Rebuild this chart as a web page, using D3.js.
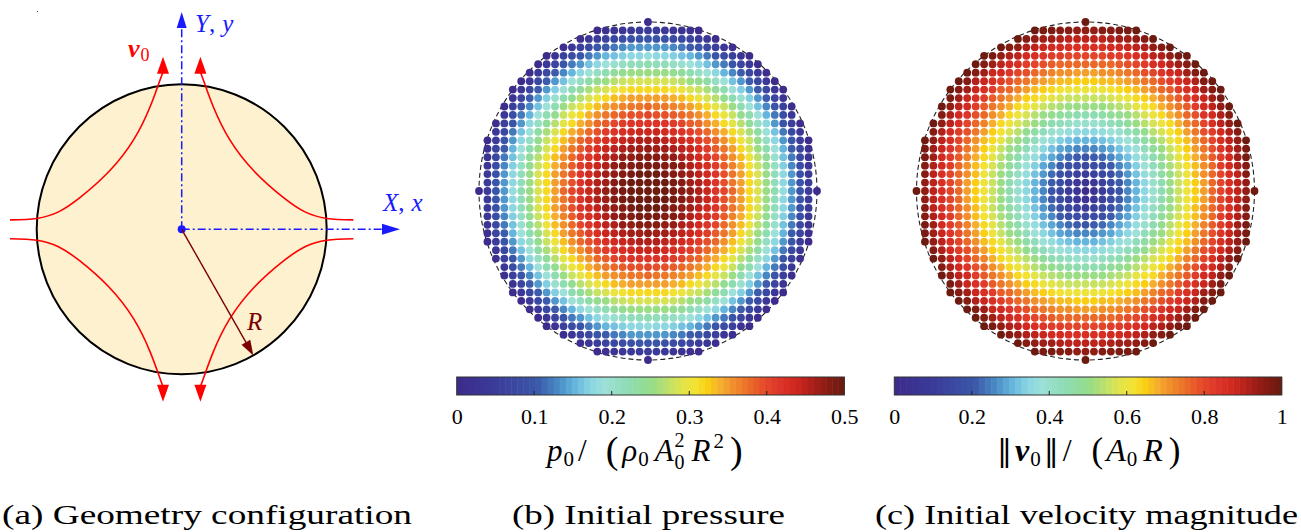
<!DOCTYPE html>
<html><head><meta charset="utf-8">
<script src="https://cdn.jsdelivr.net/npm/d3@7"></script>
<style>body{margin:0;background:#fff;} svg{display:block;}</style>
</head><body>
<svg id="fig" width="1301" height="532" font-family="Liberation Serif"></svg>
<script>
// ---------------- data ----------------
// grid node indices (nodes spaced R/20) and half-width of each row |j| = 0..20
const gridIndex = [-20,-19,-18,-17,-16,-15,-14,-13,-12,-11,-10,-9,-8,-7,-6,-5,-4,-3,-2,-1,0,1,2,3,4,5,6,7,8,9,10,11,12,13,14,15,16,17,18,19,20];
const rowHalfWidth = [20,19,19,19,19,19,19,18,18,17,17,16,16,15,14,13,12,10,8,6,0];
const gridSteps = 20;
// analytic initial fields (normalised): pressure 0.5(1-r^2), velocity magnitude r
const pressureField = (r2) => 0.5 * (1 - r2);
const velocityField = (r2) => Math.sqrt(r2);

const pressureTicks = [0, 0.1, 0.2, 0.3, 0.4, 0.5];
const pressureTickLabels = ["0", "0.1", "0.2", "0.3", "0.4", "0.5"];
const velocityTicks = [0, 0.2, 0.4, 0.6, 0.8, 1];
const velocityTickLabels = ["0", "0.2", "0.4", "0.6", "0.8", "1"];
const captions = ["(a) Geometry configuration", "(b) Initial pressure", "(c) Initial velocity magnitude"];

// schematic streamline (upper-left branch), in units of R; other three are mirrors
const streamlineUL = [[-1.184,0.065],[-1.0,0.075],[-0.85,0.12],[-0.70,0.22],[-0.50,0.40],[-0.33,0.62],[-0.22,0.84],[-0.16,1.0],[-0.129,1.085]];

// colormap stops
const cmapPos = [0,0.1,0.2,0.26,0.3,0.34,0.38,0.44,0.5,0.54,0.58,0.62,0.65,0.68,0.72,0.76,0.8,0.84,0.88,0.92,0.96,1];
const cmapCol = ["#3d2c8c","#3b3d9b","#3a56a8","#4a8dc6","#64b4dc","#88d4e2","#9de0d8","#8edcb4","#94dc8a","#b8e070","#e0e44c","#f4e232","#f9cf12","#f6b02e","#f08b2b","#ea6a28","#e44a2a","#dc3428","#d0281e","#b0201a","#8a1c14","#6d1a10"];
const nLevels = 64;

// ---------------- drawing ----------------
const FONT = "Liberation Serif";
const svg = d3.select("#fig");
const cmapLin = d3.scaleLinear().domain(cmapPos).range(cmapCol).interpolate(d3.interpolateRgb);
const cmap = t => cmapLin(Math.min(nLevels - 1, Math.max(0, Math.floor(t * nLevels))) / (nLevels - 1));

// ---------- panel (a) ----------
const A = { cx: 181.7, cy: 229.3, R: 145 };
const ax = d3.scaleLinear().domain([-1, 1]).range([A.cx - A.R, A.cx + A.R]);
const ay = d3.scaleLinear().domain([-1, 1]).range([A.cy + A.R, A.cy - A.R]);
const ga = svg.append("g");
ga.append("circle").attr("cx", ax(0)).attr("cy", ay(0)).attr("r", ax(1) - ax(0))
  .attr("fill", "#fdf1cf").attr("stroke", "#000").attr("stroke-width", 2);

const line = d3.line().x(d => ax(d[0])).y(d => ay(d[1])).curve(d3.curveNatural);
const mirrors = [[1,1],[-1,1],[1,-1],[-1,-1]];
mirrors.forEach(([mx,my]) => {
  const pts = streamlineUL.map(p => [p[0]*mx, p[1]*my]);
  ga.append("path").attr("d", line(pts)).attr("fill", "none").attr("stroke", "#ff0000").attr("stroke-width", 1.6);
  const end = pts[pts.length-1];
  const bx = ax(end[0]);
  const dir = my > 0 ? -1 : 1;
  const tipY = ay(1.19 * my);
  ga.append("path").attr("d", `M${bx},${tipY} L${bx-6},${tipY - dir*17} L${bx+6},${tipY - dir*17} Z`).attr("fill", "#ff0000");
});

// axes
const blue = "#1a1aff";
ga.append("line").attr("x1", ax(0)).attr("y1", ay(0)).attr("x2", ax(0)).attr("y2", 28)
  .attr("stroke", blue).attr("stroke-width", 1.5).attr("stroke-dasharray", "8,3,2,3");
ga.append("path").attr("d", `M${ax(0)},12 L${ax(0)-5},28 L${ax(0)+5},28 Z`).attr("fill", blue);
ga.append("line").attr("x1", ax(0)).attr("y1", ay(0)).attr("x2", 382).attr("y2", ay(0))
  .attr("stroke", blue).attr("stroke-width", 1.5).attr("stroke-dasharray", "8,3,2,3");
ga.append("path").attr("d", `M400,${ay(0)} L382,${ay(0)-5.5} L382,${ay(0)+5.5} Z`).attr("fill", blue);
ga.append("circle").attr("cx", ax(0)).attr("cy", ay(0)).attr("r", 4).attr("fill", blue);

// radius arrow
const ang = -60.4 * Math.PI / 180;
const rx = ax(Math.cos(ang)), ry = ay(Math.sin(ang));
const ux = Math.cos(ang), uy = -Math.sin(ang);
const dred = "#7b0000";
ga.append("line").attr("x1", ax(0)).attr("y1", ay(0)).attr("x2", rx - ux*12).attr("y2", ry - uy*12)
  .attr("stroke", dred).attr("stroke-width", 1.4);
const px = -uy, py = ux;
ga.append("path").attr("d", `M${rx},${ry} L${rx-ux*15+px*5},${ry-uy*15+py*5} L${rx-ux*15-px*5},${ry-uy*15-py*5} Z`).attr("fill", dred);

// labels
const tY = ga.append("text").attr("x", 195).attr("y", 32).attr("fill", blue).attr("font-family", FONT).attr("font-size", 25);
tY.append("tspan").attr("font-style", "italic").text("Y");
tY.append("tspan").text(",");
tY.append("tspan").attr("font-style", "italic").attr("dx", 7).text("y");
const tX = ga.append("text").attr("x", 383).attr("y", 211).attr("fill", blue).attr("font-family", FONT).attr("font-size", 25);
tX.append("tspan").attr("font-style", "italic").text("X");
tX.append("tspan").text(",");
tX.append("tspan").attr("font-style", "italic").attr("dx", 7).text("x");
const tv = ga.append("text").attr("x", 128).attr("y", 57).attr("fill", "#ff0000").attr("font-family", FONT).attr("font-size", 26);
tv.append("tspan").attr("font-style", "italic").attr("font-weight", "bold").text("v");
tv.append("tspan").attr("font-size", 18).attr("dy", 4).attr("dx", 1).text("0");
ga.append("text").attr("x", 247).attr("y", 330).attr("fill", dred).attr("font-family", FONT).attr("font-size", 25).attr("font-style", "italic").text("R");
ga.append("rect").attr("x", 37).attr("y", 11).attr("width", 1).attr("height", 1).attr("fill", "#555");

// ---------- dot panels ----------
function dotPanel(cx, cy, R, field, vmax) {
  const g = svg.append("g");
  const sx = d3.scaleLinear().domain([-gridSteps, gridSteps]).range([cx - R, cx + R]);
  const sy = d3.scaleLinear().domain([-gridSteps, gridSteps]).range([cy + R, cy - R]);
  const cs = d3.scaleLinear().domain([0, vmax]).range([0, 1]);
  g.append("circle").attr("cx", sx(0)).attr("cy", sy(0)).attr("r", sx(gridSteps) - sx(0))
    .attr("fill", "none").attr("stroke", "#222").attr("stroke-width", 1.1).attr("stroke-dasharray", "5,3");
  const nodes = [];
  gridIndex.forEach(j => {
    const h = rowHalfWidth[Math.abs(j)];
    gridIndex.filter(i => Math.abs(i) <= h).forEach(i => {
      const r2 = (i*i + j*j) / (gridSteps*gridSteps);
      nodes.push({ i, j, v: field(r2) });
    });
  });
  g.selectAll("circle.n").data(nodes).join("circle").attr("class", "n")
    .attr("cx", d => sx(d.i)).attr("cy", d => sy(d.j)).attr("r", 3.9)
    .attr("fill", d => cmap(cs(d.v)));
}
dotPanel(648, 191, 169, pressureField, 0.5);
dotPanel(1085.5, 191, 169, velocityField, 1);

// ---------- colorbars ----------
function colorbar(x0, x1, vmax, ticks, labels) {
  const g = svg.append("g");
  const y0 = 377, y1 = 395;
  const s = d3.scaleLinear().domain([0, vmax]).range([x0, x1]);
  const lev = d3.range(nLevels);
  g.selectAll("rect.c").data(lev).join("rect").attr("class", "c")
    .attr("x", k => s(k / nLevels * vmax)).attr("y", y0)
    .attr("width", k => s((k+1) / nLevels * vmax) - s(k / nLevels * vmax) + 0.5).attr("height", y1 - y0)
    .attr("fill", k => cmapLin(k / (nLevels - 1)));
  g.append("rect").attr("x", x0).attr("y", y0).attr("width", x1 - x0).attr("height", y1 - y0)
    .attr("fill", "none").attr("stroke", "#333").attr("stroke-width", 1);
  g.selectAll("line.t").data(ticks.slice(1, -1)).join("line").attr("class", "t")
    .attr("x1", d => s(d)).attr("x2", d => s(d)).attr("y1", y1).attr("y2", y1 - 4)
    .attr("stroke", "#222").attr("stroke-width", 1);
  const axis = d3.axisBottom(s).tickValues(ticks).tickSize(0).tickFormat((d, k) => labels[k]);
  const ag = g.append("g").attr("transform", `translate(0,${y1})`).call(axis);
  ag.attr("font-family", FONT).attr("font-size", 22);
  ag.select(".domain").remove();
  ag.selectAll("text").attr("font-family", FONT).attr("font-size", 22).attr("fill", "#000").attr("dy", 0).attr("y", 29);
  return s;
}
colorbar(456.7, 844.3, 0.5, pressureTicks, pressureTickLabels);
colorbar(894.3, 1281.7, 1, velocityTicks, velocityTickLabels);

// colorbar labels
const lp = svg.append("text").attr("x", 547).attr("y", 461).attr("font-family", FONT).attr("font-size", 31);
lp.append("tspan").attr("font-style", "italic").text("p");
lp.append("tspan").attr("font-size", 21).attr("dy", 5).attr("dx", 1).text("0");
lp.append("tspan").attr("dy", -5).attr("dx", 4).text("/");
lp.append("tspan").attr("font-size", 38).attr("dy", 2).attr("dx", 19).text("(");
lp.append("tspan").attr("font-style", "italic").attr("dy", -2).attr("dx", 4).text("ρ");
lp.append("tspan").attr("font-size", 21).attr("dy", 5).attr("dx", 1).text("0");
lp.append("tspan").attr("font-style", "italic").attr("dy", -5).attr("dx", 6).text("A");
lp.append("tspan").attr("font-size", 20).attr("dy", -14).attr("dx", 1).text("2");
lp.append("tspan").attr("font-size", 20).attr("dx", -10).attr("dy", 22).text("0");
lp.append("tspan").attr("font-style", "italic").attr("dy", -8).attr("dx", 7).text("R");
lp.append("tspan").attr("font-size", 21).attr("dy", -13).attr("dx", 3).text("2");
lp.append("tspan").attr("font-size", 38).attr("dy", 15).attr("dx", 6).text(")");

const lv = svg.append("text").attr("x", 997).attr("y", 461).attr("font-family", FONT).attr("font-size", 32);
lv.append("tspan").attr("font-family", "DejaVu Serif").attr("font-size", 30).text("‖");
lv.append("tspan").attr("font-style", "italic").attr("font-weight", "bold").attr("dx", 3).text("v");
lv.append("tspan").attr("font-size", 21).attr("dy", 5).attr("dx", 1).text("0");
lv.append("tspan").attr("font-family", "DejaVu Serif").attr("font-size", 30).attr("dy", -5).attr("dx", 3).text("‖");
lv.append("tspan").attr("dx", 4).text("/");
lv.append("tspan").attr("font-size", 35).attr("dx", 20).attr("dy", 1).text("(");
lv.append("tspan").attr("font-style", "italic").attr("dy", -1).attr("dx", 3).text("A");
lv.append("tspan").attr("font-size", 21).attr("dy", 5).attr("dx", 1).text("0");
lv.append("tspan").attr("font-style", "italic").attr("dy", -5).attr("dx", 6).text("R");
lv.append("tspan").attr("font-size", 35).attr("dy", 1).attr("dx", 6).text(")");

// captions
const capX = [[2, 410], [512, 273], [875, 423]];
captions.forEach((c, k) => {
  svg.append("text").attr("x", capX[k][0]).attr("y", 524).attr("font-family", FONT).attr("font-size", 28)
    .attr("textLength", capX[k][1]).attr("lengthAdjust", "spacingAndGlyphs").text(c);
});
</script>
</body></html>
